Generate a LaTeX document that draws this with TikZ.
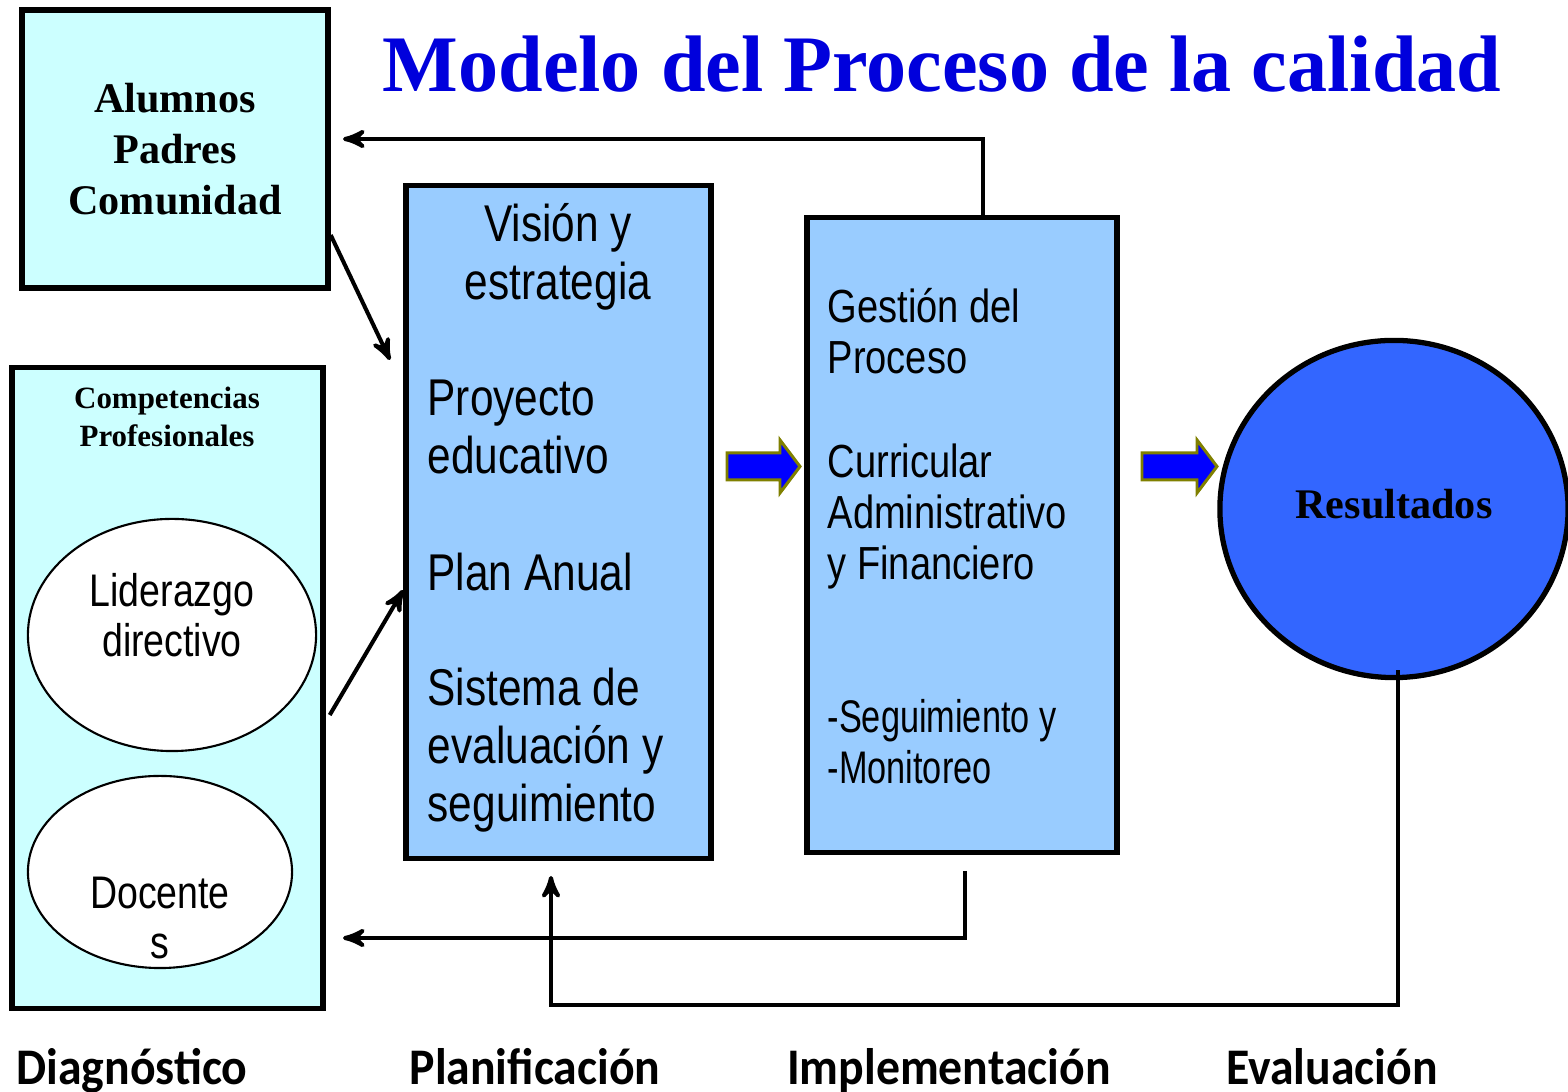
\documentclass[tikz,border=0pt]{standalone}
\usepackage{fontspec}
\setmainfont{Liberation Serif}
\newfontfamily\narrowfont{Liberation Sans}[FakeStretch=0.82]
\newfontfamily\thinfont{Liberation Sans}[FakeStretch=0.75]
\newfontfamily\stagefont{Carlito}[FakeStretch=0.93]
\usetikzlibrary{arrows, positioning, shapes.geometric}
\definecolor{cyanclaro}{RGB}{204,255,255}
\definecolor{azulclaro}{RGB}{153,204,255}
\definecolor{azulres}{RGB}{51,102,255}
\definecolor{azultitulo}{RGB}{0,0,220}
\definecolor{azulflecha}{RGB}{0,0,255}
\definecolor{oliva}{RGB}{128,128,0}
\newcommand{\plantxt}{\narrowfont\fontsize{14.7}{16.5}\selectfont}
\newcommand{\impltxt}{\narrowfont\fontsize{13.2}{14.5}\selectfont}

\begin{document}
\begin{tikzpicture}[->, >=stealth', x=0.01cm, y=-0.01cm]
    \tikzstyle{box} = [draw, line width=1.5pt, rectangle, inner sep=0pt]
    \tikzstyle{oval} = [draw, ellipse, line width=0.6pt, fill=white, inner sep=0pt]
    \tikzstyle{txt} = [inner sep=0pt, align=left]
    \tikzstyle{conn} = [line width=1.15pt]
    \tikzstyle{stage} = [font={\stagefont\bfseries\fontsize{14.6}{16}\selectfont}, anchor=base, inner sep=0pt]
    \tikzstyle{blockarrow} = [fill=azulflecha, draw=oliva, line width=0.85pt]
    \useasboundingbox (0,0) rectangle (1568,1092);
    % title
    \node [anchor=base, inner sep=0pt, text=azultitulo, font={\bfseries\fontsize{22.8}{26}\selectfont}] (titulo) at (942,92) {Modelo del Proceso de la calidad};
    % diagnostico
    \node [box, fill=cyanclaro, minimum width=3.06cm, minimum height=2.78cm, align=center,
        font={\bfseries\fontsize{12}{14.5}\selectfont}] (alumnos) at (175,149) {Alumnos\\Padres\\Comunidad};
    \node [box, fill=cyanclaro, minimum width=3.11cm, minimum height=6.4cm] (competencias) at (167.5,688) {};
    \node [txt, align=center, font={\bfseries\fontsize{8.8}{10.8}\selectfont}] (comptxt) at (167,417) {Competencias\\Profesionales};
    \node [oval, minimum width=2.88cm, minimum height=2.32cm] (liderazgo) at (172,635) {};
    \node [txt, align=center, font={\narrowfont\fontsize{13}{14.3}\selectfont}] (lidtxt) at (172,615) {Liderazgo\\directivo};
    \node [oval, minimum width=2.64cm, minimum height=1.92cm] (docentes) at (160,872) {};
    \node [txt, align=center, font={\narrowfont\fontsize{13}{14.3}\selectfont}] (doctxt) at (160,918) {Docente\\s};
    % planificacion
    \node [box, fill=azulclaro, minimum width=3.05cm, minimum height=6.72cm] (planif) at (558.5,522) {};
    \node [txt, align=center, font=\plantxt] (vision) at (558,257) {Visión y\\estrategia};
    \node [txt, anchor=west, font=\plantxt] (proyecto) at (427,427) {Proyecto\\educativo};
    \node [txt, anchor=west, font=\plantxt] (plan) at (427,572) {Plan Anual};
    \node [txt, anchor=west, font=\plantxt] (sistema) at (427,750) {Sistema de\\evaluación y\\seguimiento};
    % implementacion
    \node [box, fill=azulclaro, minimum width=3.1cm, minimum height=6.34cm] (implem) at (962,535) {};
    \node [txt, anchor=west, font=\impltxt] (gestion) at (827,331) {Gestión del\\Proceso};
    \node [txt, anchor=west, font=\impltxt] (curricular) at (827,517) {Curricular\\Administrativo\\y Financiero};
    \node [txt, anchor=west, font={\thinfont\fontsize{13}{14.5}\selectfont}] (seguimiento) at (827,742) {-Seguimiento y\\-Monitoreo};
    % evaluacion
    \node [draw, ellipse, fill=azulres, line width=1.5pt, minimum width=3.48cm, minimum height=3.37cm,
        inner sep=0pt, font={\bfseries\fontsize{12}{14}\selectfont}] (resultados) at (1394,509) {\raisebox{0.1cm}{Resultados}};
    % block arrows
    \draw[blockarrow] (727,453) -- (780,453) -- (780,440) -- (800,466.5) -- (780,493) -- (780,480) -- (727,480) -- cycle;
    \draw[blockarrow] (1142,453) -- (1197,453) -- (1197,440) -- (1217,466.5) -- (1197,493) -- (1197,480) -- (1142,480) -- cycle;
    % free ends
    \coordinate (alumnosIn) at (343,139);
    \coordinate (planIn) at (390,360);
    \coordinate (compIn) at (343,938);
    \coordinate (planBack) at (551,876);
    % connectors
    \draw[conn] ([xshift=0.21cm]implem.north) |- (alumnosIn);
    \draw[conn] ([yshift=-0.86cm]alumnos.east) -- (planIn);
    \draw[conn] ([xshift=0.04cm, yshift=-0.27cm]competencias.east) -- ([yshift=-0.68cm]planif.west);
    \draw[conn] ([xshift=0.03cm, yshift=-0.16cm]implem.south) |- (compIn);
    \draw[conn] ([xshift=0.04cm, yshift=0.1cm]resultados.south) -- ++(0,335) -| (planBack);
    % stages
    \node [stage] (diagnostico) at (132,1085) {Diagnóstico};
    \node [stage] (planificacion) at (535,1085) {Planificación};
    \node [stage] (implementacion) at (949,1085) {Implementación};
    \node [stage] (evaluacion) at (1332,1085) {Evaluación};
\end{tikzpicture}
\end{document}
